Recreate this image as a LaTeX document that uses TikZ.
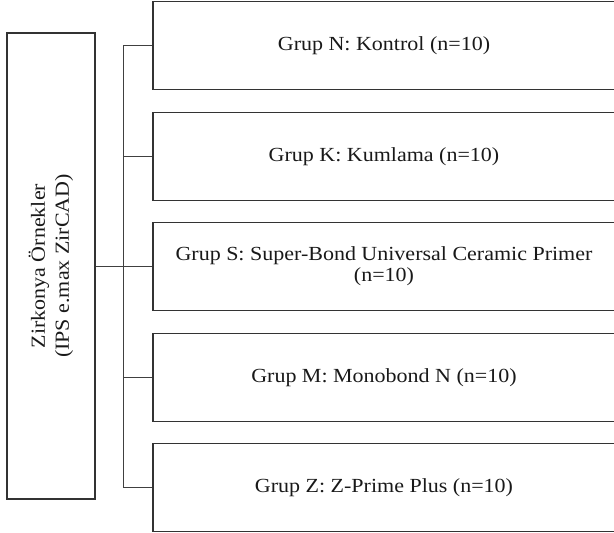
\documentclass[tikz,border=0pt]{standalone}
\usepackage{fontspec}
\setmainfont[FakeStretch=1.1]{Liberation Serif}
\begin{document}
\begin{tikzpicture}[x=1pt,y=-1pt,
  box/.style={draw=black!80, line width=1.2pt, rectangle, inner sep=0pt,
    minimum width=462pt, minimum height=88pt,
    font=\fontsize{20}{21}\selectfont, align=center, text=black!90},
  conn/.style={draw=black!75, line width=0.9pt}]
\useasboundingbox (0,0) rectangle (614,533);
\clip (0,0) rectangle (614,533);
\node[box] (N) at (384,45.5) {Grup N: Kontrol (n=10)};
\node[box] (K) at (384,156.5) {Grup K: Kumlama (n=10)};
\node[box] (S) at (384,266.5) {Grup S: Super-Bond Universal Ceramic Primer\\(n=10)};
\node[box] (M) at (384,377.5) {Grup M: Monobond N (n=10)};
\node[box] (Z) at (384,487.5) {Grup Z: Z-Prime Plus (n=10)};
\node[draw=black!80, line width=1.2pt, rectangle, inner sep=0pt,
  minimum width=88pt, minimum height=466pt] (L) at (51,266) {};
\node[rotate=90, align=center, font=\fontsize{20}{24}\selectfont, text=black!90]
  (Lt) at (L.center) {Zirkonya Örnekler\\(IPS e.max ZirCAD)};
\coordinate (bus) at (123,0);
\draw[conn] (L.east) -- (L.east -| S.west);
\draw[conn] (N.west -| bus) -- (Z.west -| bus);
\foreach \g in {N,K,M,Z} {
  \draw[conn] (\g.west -| bus) -- (\g.west);
}
\end{tikzpicture}
\end{document}
